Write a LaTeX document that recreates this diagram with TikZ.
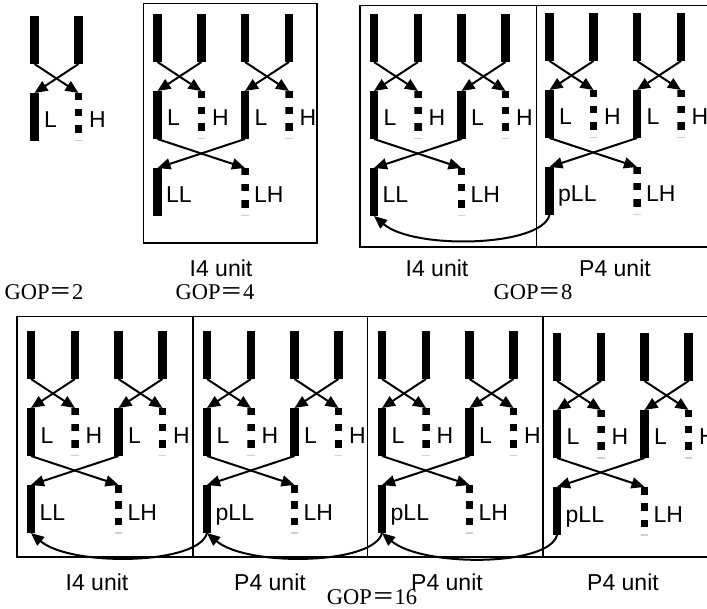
\documentclass[tikz,border=0pt]{standalone}
\usepackage{fontspec}
\setmainfont{Liberation Serif}
\setsansfont{Liberation Sans}
\newfontfamily\cjk{Noto Sans CJK SC}
\usetikzlibrary{arrows.meta}
\tikzset{
  bar/.style={fill=black, minimum width=8.5pt, minimum height=48pt, inner sep=0pt, outer sep=0pt, anchor=north},
  dots/.style={minimum width=7.5pt, minimum height=40pt, inner sep=0pt, outer sep=0pt, anchor=north,
    path picture={
      \fill (path picture bounding box.north west) rectangle ([yshift=-7.5pt]path picture bounding box.north east);
      \fill ([yshift=-16pt]path picture bounding box.north west) rectangle ([yshift=-23.5pt]path picture bounding box.north east);
      \fill ([yshift=-32.5pt]path picture bounding box.north west) rectangle (path picture bounding box.south east);
    }},
  arr/.style={line width=2pt, -{Triangle[length=13pt,width=11pt]}},
  lbl/.style={font=\sffamily\fontsize{23}{27}\selectfont, anchor=base west, inner sep=0pt},
  unitlbl/.style={font=\sffamily\fontsize{23}{27}\selectfont, anchor=base, inner sep=0pt},
  goplbl/.style={font=\rmfamily\fontsize{22.5}{27}\selectfont, anchor=base, inner sep=0pt},
  frame/.style={line width=1.8pt},
  faint/.style={fill=black!18},
}
\newcommand\halfunit[3]{%
  \node[bar] (#1a) at (#2,#3) {};
  \node[bar] (#1b) at (#2+44,#3) {};
  \node[bar] (#1L) at (#2,#3+77) {};
  \node[dots] (#1H) at (#2+44,#3+77) {};
  \fill[faint] ([yshift=-7pt]#1H.south west) rectangle ([yshift=-8.5pt]#1H.south east);
  \draw[arr] (#1a.south) -- (#1H.north);
  \draw[arr] (#1b.south) -- (#1L.north);
  \node[lbl] (#1Lt) at (#2+9.5,#3+112) {L};
  \node[lbl] (#1Ht) at (#2+54.5,#3+112) {H};
}
\newcommand\fullunit[4]{%
  \halfunit{#1l}{#2}{#3}
  \halfunit{#1r}{#2+87.5}{#3}
  \node[bar] (#1LL) at (#2,#3+154) {};
  \node[dots] (#1LH) at (#2+87.5,#3+154) {};
  \fill[faint] ([yshift=-7pt]#1LH.south west) rectangle ([yshift=-8.5pt]#1LH.south east);
  \draw[arr] (#1lL.south) -- (#1LH.north);
  \draw[arr] (#1rL.south) -- (#1LL.north);
  \node[lbl] (#1LLt) at (#2+8.5,#3+189) {#4};
  \node[lbl] (#1LHt) at (#2+96.5,#3+189) {LH};
}
\newcommand\backarrow[2]{%
  \draw[arr] (#1.south) .. controls +(-8,32) and +(40,34) .. (#2.south);
}
\begin{document}
\begin{tikzpicture}[x=1pt,y=-1pt]
\useasboundingbox (0,0) rectangle (707,609);
\clip (0,0) rectangle (707,609);
% GOP=2
\halfunit{g}{34.5}{16}
% row 1 frames
\draw[frame] (143.5,3.5) rectangle (317,243);
\draw[frame] (360,5.5) rectangle (720,247);
\draw[frame] (536.5,5.5) -- (536.5,247);
% row 1 units
\fullunit{a}{157.5}{14}{LL}
\fullunit{b}{374}{14}{LL}
\fullunit{c}{549.5}{13}{pLL}
\backarrow{cLL}{bLL}
% row 1 labels
\node[unitlbl] (t1) at (221,277) {I4 unit};
\node[unitlbl] (t2) at (437,277) {I4 unit};
\node[unitlbl] (t3) at (615,277) {P4 unit};
\node[goplbl] (g1) at (44,300) {GOP{\cjk ＝}2};
\node[goplbl] (g2) at (215,300) {GOP{\cjk ＝}4};
\node[goplbl] (g3) at (533,300) {GOP{\cjk ＝}8};
% row 2 frames
\draw[frame] (17,316.5) rectangle (720,557);
\draw[frame] (193,316.5) -- (193,557);
\draw[frame] (367.5,316.5) -- (367.5,557);
\draw[frame] (543,316.5) -- (543,557);
% row 2 units
\fullunit{d}{31}{331}{LL}
\fullunit{e}{207}{331}{pLL}
\fullunit{f}{382}{331}{pLL}
\fullunit{h}{557}{333}{pLL}
\backarrow{eLL}{dLL}
\backarrow{fLL}{eLL}
\backarrow{hLL}{fLL}
% row 2 labels
\node[unitlbl] (t4) at (97,590) {I4 unit};
\node[unitlbl] (t5) at (270,590) {P4 unit};
\node[unitlbl] (t6) at (447,590) {P4 unit};
\node[unitlbl] (t7) at (623,590) {P4 unit};
\node[goplbl] (g4) at (372,604) {GOP{\cjk ＝}16};
\end{tikzpicture}
\end{document}
